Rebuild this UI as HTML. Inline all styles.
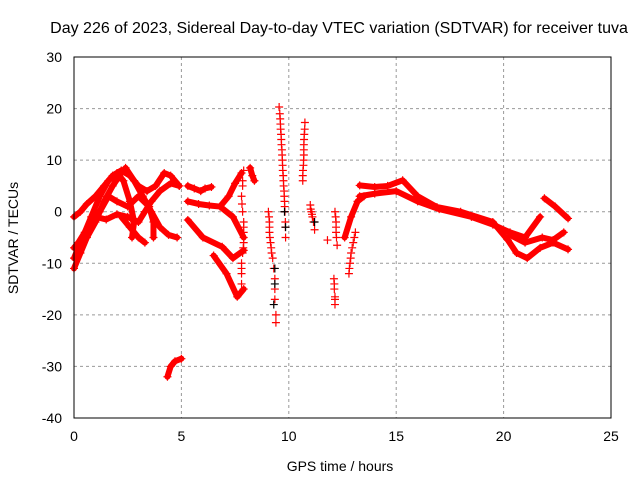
<!DOCTYPE html>
<html><head><meta charset="utf-8"><style>
body{margin:0;background:#fff;}
svg text{font-family:"Liberation Sans",sans-serif;font-size:14px;fill:#000;}
</style></head><body>
<svg id="chart" width="640" height="480">
<text x="339" y="33" text-anchor="middle" style="font-size:16px">Day 226 of 2023, Sidereal Day-to-day VTEC variation (SDTVAR) for receiver tuva</text>
<g id="grid"></g>
<g id="marks"></g>
<rect x="74" y="57" width="537" height="361" fill="none" stroke="#000" stroke-width="1"/>
<g id="ticks"></g>
<text x="340" y="471" text-anchor="middle">GPS time / hours</text>
<text x="18" y="238" text-anchor="middle" transform="rotate(-90 18 238)">SDTVAR / TECUs</text>
</svg>
<script>
const xTicks=[0,5,10,15,20,25];
const yTicks=[30,20,10,0,-10,-20,-30,-40];
// dense tracks [hour, TECU]
const denseTracks=[
[[0,-11],[0.3,-8],[0.6,-5],[1,-2],[1.4,2],[1.8,5],[2.2,7.5],[2.4,8.5],[2.8,6],[3.2,3],[3.6,0],[4,-3],[4.4,-4.5],[4.8,-5]],
[[0,-9],[0.4,-5],[0.8,-1],[1.2,3],[1.6,6],[2,7.5],[2.3,6],[2.6,2],[2.8,-2],[2.7,-5]],
[[0,-1],[0.3,0],[0.6,1.5],[1,3],[1.4,5],[1.8,7],[2.2,8],[2.6,7],[3,5],[3.4,4],[3.8,5],[4.2,7.5],[4.5,7],[4.9,5]],
[[1,-1],[1.5,-1.5],[2,-0.5],[2.5,-1],[3,-2],[3.3,0],[3.6,2],[4,4],[4.5,5.5],[4.9,5]],
[[1.2,0],[1.6,3],[2,2],[2.5,1],[3,3],[3.5,1],[3.7,-2],[3.7,-5]],
[[2.2,-1],[2.6,-3],[3,-5],[3.3,-6]],
[[0,-7],[0.2,-6],[0.5,-4],[0.8,-2],[1,0]],
[[4.35,-32],[4.5,-30],[4.7,-29],[5,-28.5]],
[[5.3,5],[5.6,4.5],[5.9,4],[6.1,4.5],[6.4,4.8]],
[[5.3,2],[5.8,1.5],[6.3,1.2],[6.8,1],[7.2,3],[7.5,5.5],[7.8,7.5]],
[[6.8,1],[7.4,-1],[7.9,-5]],
[[5.3,-1.6],[6,-5],[6.9,-6.8],[7.4,-9],[7.9,-7.5]],
[[6.5,-8.5],[7.1,-12],[7.6,-16.5],[7.9,-15]],
[[8.2,8.5],[8.3,7],[8.4,6]],
[[12.6,-5],[12.9,-1],[13.2,2],[13.5,3]],
[[13.3,5.1],[14,4.8],[14.6,5],[15.3,6.1],[16,3],[16.9,0.9],[18,0],[19.5,-2],[20.2,-5.5],[20.6,-8],[21.1,-9],[21.7,-7],[22.3,-6],[23,-7.3]],
[[13.3,3],[14,3.5],[15,4],[16,2],[17,0.5],[18.5,-1],[19.5,-2.5],[20.3,-4],[21,-5],[21.7,-1]],
[[20.3,-4.5],[21,-6],[21.8,-5],[22.3,-5.5],[22.8,-4]],
[[21.9,2.6],[22.4,1],[23,-1.3]]
];
// sparse marker tracks
const sparseTracks=[
[[7.9,8],[7.85,6],[7.85,5],[7.8,3],[7.82,1.5],[7.85,0],[7.9,-2],[7.9,-3],[7.9,-4],[7.9,-6],[7.88,-7],[7.85,-8],[7.8,-10],[7.8,-11],[7.8,-12],[7.8,-14]],
[[9.05,0],[9.08,-1],[9.1,-2],[9.1,-3],[9.1,-4],[9.12,-5],[9.15,-6],[9.18,-7],[9.2,-8],[9.25,-9],[9.3,-11],[9.35,-13],[9.35,-15],[9.35,-17],[9.4,-20],[9.4,-21.5]],
[[9.55,20.3],[9.58,19],[9.6,18],[9.61,17],[9.62,16],[9.64,15],[9.65,14],[9.66,13],[9.68,12],[9.69,11],[9.7,10],[9.71,9],[9.72,8],[9.74,7],[9.75,6],[9.76,5],[9.78,4],[9.79,3],[9.8,2],[9.81,1],[9.82,0],[9.84,-2],[9.84,-3],[9.85,-5]],
[[10.75,17.3],[10.74,16],[10.72,15],[10.71,14],[10.7,13],[10.7,12],[10.7,11],[10.69,10],[10.68,9],[10.66,8],[10.65,7],[10.65,6]],
[[11,1.3],[11.02,0.5],[11.05,0],[11.08,-0.5],[11.1,-1],[11.15,-2],[11.2,-3.5],[11.8,-5.5]],
[[12.1,-13],[12.12,-14],[12.12,-15],[12.15,-16.5],[12.15,-17],[12.15,-18]],
[[12.15,0],[12.18,-1],[12.2,-2],[12.2,-3],[12.2,-4],[12.22,-5],[12.25,-6.5]],
[[12.8,-12],[12.82,-11],[12.85,-10],[12.88,-9],[12.9,-8],[12.95,-7],[13,-6],[13.05,-5],[13.1,-4]]
];
const blackPts=[[9.35,-11],[9.35,-14],[9.3,-18],[9.85,-3],[9.8,0],[11.2,-2]];
const NS='http://www.w3.org/2000/svg';
function X(h){return 74+h*537/25;}
function Y(v){return 57+(30-v)*361/70;}
const grid=document.getElementById('grid'),ticks=document.getElementById('ticks'),marks=document.getElementById('marks');
function mk(tag,attrs,parent){const e=document.createElementNS(NS,tag);for(const k in attrs)e.setAttribute(k,attrs[k]);parent.appendChild(e);return e;}
xTicks.forEach(t=>{
 if(t>0&&t<25){const l=mk('line',{x1:X(t),x2:X(t),y1:57,y2:418,stroke:'#999','stroke-dasharray':'3,3'},grid);
 
 }
 const tx=mk('text',{x:X(t),y:441,'text-anchor':'middle'},ticks);tx.textContent=t;
 
 
});
yTicks.forEach(t=>{
 if(t<30&&t>-40){const l=mk('line',{x1:74,x2:611,y1:Y(t),y2:Y(t),stroke:'#999','stroke-dasharray':'3,3'},grid);
 
 }
 const tx=mk('text',{x:62,y:Y(t)+5,'text-anchor':'end'},ticks);tx.textContent=t;
 
 
});
function plus(p,color,g){const x=X(p[0]),y=Y(p[1]);
 const e=mk('path',{d:`M${x-4},${y}H${x+4}M${x},${y-4}V${y+4}`,stroke:color,'stroke-width':1.2},g);
 
 }
denseTracks.forEach(tr=>{
 const pl=mk('polyline',{points:tr.map(p=>X(p[0])+','+Y(p[1])).join(' '),fill:'none',stroke:'#f00','stroke-width':6,'stroke-linejoin':'round','stroke-linecap':'round'},marks);
 
 
 tr.forEach(p=>plus(p,'#f00',marks));
});
sparseTracks.forEach(tr=>tr.forEach(p=>plus(p,'#f00',marks)));
blackPts.forEach(p=>plus(p,'#000',marks));
</script>
</body></html>
